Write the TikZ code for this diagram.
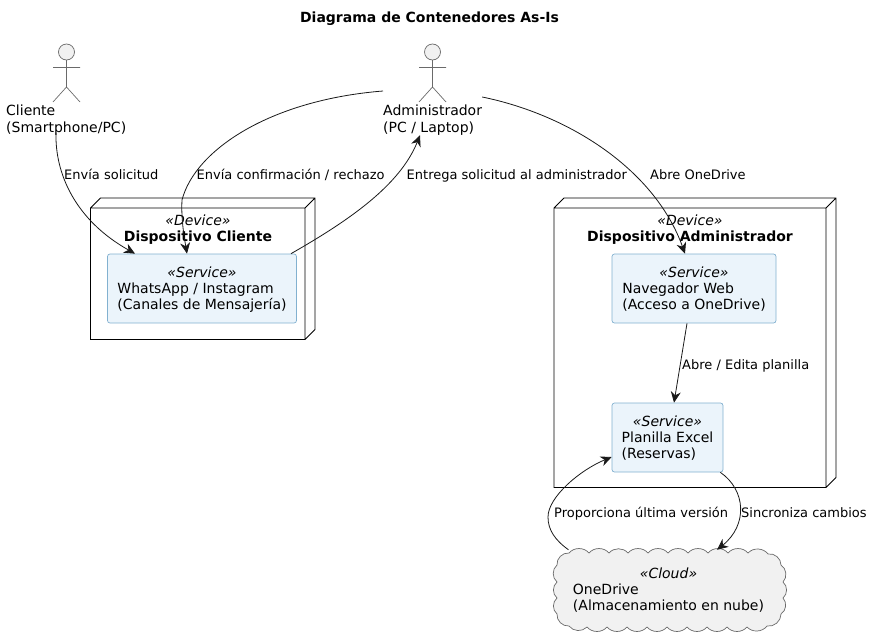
\documentclass[tikz,border=0pt]{standalone}
\usepackage{fontspec}
\setmainfont{DejaVu Sans}
\usetikzlibrary{arrows.meta}
\definecolor{boxfill}{HTML}{EBF4FB}
\definecolor{boxline}{HTML}{82B1D0}
\definecolor{actorline}{HTML}{6A6A6A}
\definecolor{softfill}{HTML}{F1F1F1}
\colorlet{inkline}{black!90!white}
\tikzset{
  actorlimb/.style={actorline,line width=.7pt},
  actorname/.style={font=\fontsize{14}{16.3}\selectfont,align=left,inner sep=0pt,anchor=north west},
  devicebox/.style={draw=black,line width=.9pt},
  devicename/.style={font=\fontsize{14}{16.3}\selectfont,align=center,inner sep=0pt},
  svcbox/.style={draw=boxline,fill=boxfill,line width=.7pt,rounded corners=2.5pt,inner sep=0pt,font=\fontsize{14}{16.3}\selectfont},
  edgelabel/.style={font=\fontsize{13}{15}\selectfont,inner sep=0pt,anchor=base west},
  conn/.style={draw=inkline,line width=.8pt,-{Stealth[length=11pt,width=10pt,inset=3.5pt]}},
}
\newcommand{\stereotext}[3]{\raisebox{-5.5pt}[0pt][0pt]{\begin{tabular}{@{}l@{}}\multicolumn{1}{@{}c@{}}{\textit{«#1»}}\\#2\\#3\end{tabular}}}

\begin{document}
\begin{tikzpicture}[x=1pt,y=-1pt]
  \useasboundingbox (0,0) rectangle (872,640);
  \node[font=\fontsize{14}{16}\selectfont\bfseries,inner sep=0pt] (title) at (429.5,18.5) {Diagrama de Contenedores As-Is};

  % actors
  \foreach\cx in {66.5,432.5} {
    \draw[actorlimb,fill=softfill] (\cx,52) circle (8);
    \draw[actorlimb] (\cx,60) -- (\cx,87) (\cx-13.5,67.5) -- (\cx+13.5,67.5) (\cx-13.5,102) -- (\cx,87) -- (\cx+13.5,102);
  }
  \node[actorname] (cliente) at (6,105) {Cliente\\(Smartphone/PC)};
  \node[actorname] (admin) at (383,105) {Administrador\\(PC / Laptop)};

  % devices
  \draw[devicebox] (90.5,208) rectangle (305,339.5) (90.5,208) -- (100.5,198) -- (315,198) -- (315,329.5) -- (305,339.5) (305,208) -- (315,198);
  \draw[devicebox] (554,208) rectangle (826,487.5) (554,208) -- (564,198) -- (836,198) -- (836,477.5) -- (826,487.5) (826,208) -- (836,198);
  \node[devicename] (devcliente) at (198,229.5) {\textit{«Device»}\\\textbf{Dispositivo Cliente}};
  \node[devicename] (devadmin) at (690,229.5) {\textit{«Device»}\\\textbf{Dispositivo Administrador}};

  % services
  \node[svcbox,minimum width=189pt,minimum height=69pt] (whatsapp) at (202,288.5) {\stereotext{Service}{WhatsApp / Instagram}{(Canales de Mensajería)}};
  \node[svcbox,minimum width=164pt,minimum height=69pt] (navegador) at (694,288.5) {\stereotext{Service}{Navegador Web}{(Acceso a OneDrive)}};
  \node[svcbox,minimum width=111pt,minimum height=69pt] (excel) at (667.5,437.5) {\stereotext{Service}{Planilla Excel}{(Reservas)}};

  % cloud
  \draw[actorlimb,fill=softfill] (569,553)
    \foreach\px/\py in {589/553,609/553,628/553,648/553,668/553,688/553,708/553,728/553,748/553,768/554,781/565,783/582,783/598,781/614,767/626,747/627,727/627,707/627,687/627,667/627,647/627,627/627,607/627,587/627,569/626,557/614,557/598,557/582,557/565} {
      to[bend left=50] (\px,\py)
    } to[bend left=50] (569,553);
  \node[minimum width=235pt,minimum height=85pt,inner sep=0pt,font=\fontsize{14}{16.3}\selectfont] (onedrive) at (668.5,589.5) {\stereotext{Cloud}{OneDrive}{(Almacenamiento en nube)}};

  % connectors
  \draw[conn] ([xshift=50pt,yshift=2pt]cliente.south west) .. controls +(-1,40) and (75,220) .. ([xshift=-67pt]whatsapp.north);
  \draw[conn] (admin.north west |- 0,91) .. controls (270,100) and (195,150) .. (182,200) .. controls (181,218) and (184,236) .. ([xshift=-15pt]whatsapp.north);
  \draw[conn] ([xshift=89pt]whatsapp.north) .. controls (350,220) and (400,185) .. ([xshift=37pt]admin.south west);
  \draw[conn] (admin.north east |- 0,97) .. controls (570,115) and (655,170) .. ([xshift=-9pt]navegador.north);
  \draw[conn] ([xshift=-7pt]navegador.south) -- ([xshift=6.5pt]excel.north);
  \draw[conn] ([xshift=-3pt]excel.south east) .. controls (746,490) and (748,525) .. ([xshift=48.5pt,yshift=-3pt]onedrive.north);
  \draw[conn] ([xshift=-100pt,yshift=-3pt]onedrive.north) .. controls (555,540) and (548,530) .. (548,517) .. controls (548,497) and (580,470) .. (excel.west |- 0,457);

  % edge labels
  \node[edgelabel] (lblsolicitud) at (64,179) {Envía solicitud};
  \node[edgelabel] (lblconfirma) at (196.5,179) {Envía confirmación / rechazo};
  \node[edgelabel] (lblentrega) at (406.5,179) {Entrega solicitud al administrador};
  \node[edgelabel] (lblabre) at (650,179) {Abre OneDrive};
  \node[edgelabel] (lbledita) at (682,369) {Abre / Edita planilla};
  \node[edgelabel] (lblultima) at (554,517) {Proporciona última versión};
  \node[edgelabel] (lblsincro) at (741,517) {Sincroniza cambios};
\end{tikzpicture}
\end{document}
